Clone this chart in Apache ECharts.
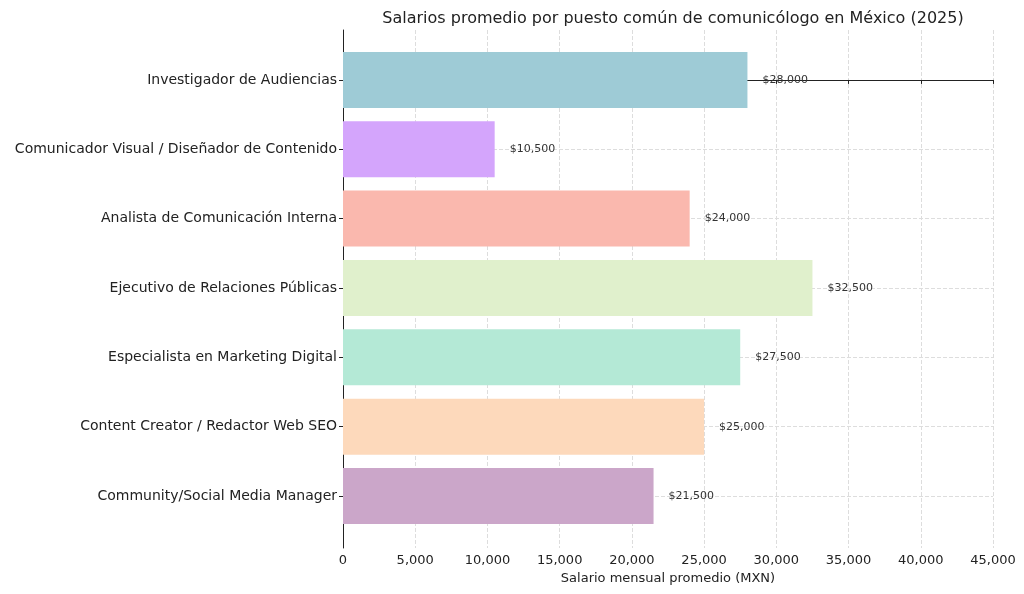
<!DOCTYPE html>
<html>
  <head>
    <meta charset="UTF-8" />
    <script src="https://cdn.jsdelivr.net/npm/echarts@6/dist/echarts.min.js"></script>
  </head>
  <body style="margin:0">
    <div id="main"></div>
    <script>
      const width = 1024;
      const height = 594;
      const main = document.getElementById('main');
      main.style.width = `${width}px`;
      main.style.height = `${height}px`;

      const puestos = [
        'Investigador de Audiencias',
        'Comunicador Visual / Diseñador de Contenido',
        'Analista de Comunicación Interna',
        'Ejecutivo de Relaciones Públicas',
        'Especialista en Marketing Digital',
        'Content Creator / Redactor Web SEO',
        'Community/Social Media Manager'
      ];
      const salarios = [28000, 10500, 24000, 32500, 27500, 25000, 21500];
      const colores = ['#9ecbd6', '#d4a5fc', '#fab8ae', '#e0f0cc', '#b4e9d6', '#fdd9bb', '#cba6c9'];
      const posiciones = [0, 1, 2, 3, 4, 5, 6];

      const font = 'DejaVu Sans';
      const gridLine = { show: true, lineStyle: { color: '#dddddd', type: 'dashed' } };

      const myChart = echarts.init(main);
      myChart.setOption({
        animation: false,
        backgroundColor: '#fff',
        title: {
          text: 'Salarios promedio por puesto común de comunicólogo en México (2025)',
          left: 668, top: 6, textAlign: 'center',
          textStyle: { fontFamily: font, fontSize: 16, fontWeight: 'normal', color: '#222' }
        },
        grid: { left: 343, right: 31, top: 30, bottom: 46 },
        xAxis: {
          type: 'value', min: 0, max: 45000, interval: 5000,
          name: 'Salario mensual promedio (MXN)', nameLocation: 'middle', nameGap: 22,
          nameTextStyle: { fontFamily: font, fontSize: 13, color: '#222' },
          axisLine: { show: true, lineStyle: { color: '#222' } },
          axisTick: { show: true, length: 4, lineStyle: { color: '#222' } },
          axisLabel: { fontFamily: font, fontSize: 13, color: '#222', margin: 6 },
          splitLine: gridLine
        },
        yAxis: {
          type: 'value', min: -0.72, max: 6.75, inverse: true,
          axisLine: { show: true, lineStyle: { color: '#222' } },
          axisTick: { show: true, length: 4, customValues: posiciones, lineStyle: { color: '#222' } },
          axisLabel: {
            fontFamily: font, fontSize: 14, color: '#222', margin: 6,
            customValues: posiciones,
            formatter: v => puestos[Math.round(v)]
          },
          splitLine: gridLine
        },
        series: [{
          type: 'custom',
          data: salarios.map((v, i) => [v, i]),
          encode: { x: 0, y: 1 },
          renderItem: (params, api) => {
            const i = api.value(1);
            const end = api.coord([api.value(0), i]);
            const start = api.coord([0, i]);
            const h = 56;
            return {
              type: 'group',
              children: [{
                type: 'rect',
                shape: { x: start[0], y: end[1] - h / 2, width: end[0] - start[0], height: h },
                style: { fill: colores[i] }
              }, {
                type: 'text',
                x: end[0] + 15, y: end[1],
                style: {
                  text: '$' + salarios[i].toLocaleString('en-US'),
                  fontFamily: font, fontSize: 11, fill: '#333', verticalAlign: 'middle'
                }
              }]
            };
          }
        }]
      });
    </script>
  </body>
</html>
